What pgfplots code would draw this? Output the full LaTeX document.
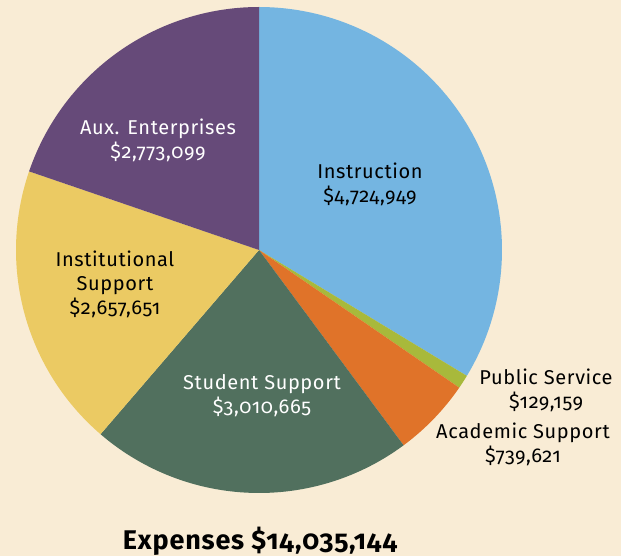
\documentclass[border=0pt]{standalone}
\usepackage{pgfplots}
\pgfplotsset{compat=1.18}
\usepackage{fontspec}
\setmainfont{Fira Sans}[Numbers=OldStyle,LetterSpace=3]
\definecolor{bg}{HTML}{F9ECD5}
\definecolor{cInstr}{HTML}{74B5E1}
\definecolor{cPub}{HTML}{A8B93B}
\definecolor{cAcad}{HTML}{E07329}
\definecolor{cStud}{HTML}{51705E}
\definecolor{cInst}{HTML}{EBCA63}
\definecolor{cAux}{HTML}{664A79}
\begin{document}
\begin{tikzpicture}
% values in thousands of dollars
\pgfmathsetmacro{\vInstr}{4724.949}
\pgfmathsetmacro{\vPub}{129.159}
\pgfmathsetmacro{\vAcad}{739.621}
\pgfmathsetmacro{\vStud}{3010.665}
\pgfmathsetmacro{\vInst}{2657.651}
\pgfmathsetmacro{\vAux}{2773.099}
\pgfmathsetmacro{\T}{\vInstr+\vPub+\vAcad+\vStud+\vInst+\vAux}
\pgfmathsetmacro{\aA}{90}
\pgfmathsetmacro{\aB}{\aA-360*(\vInstr/\T)}
\pgfmathsetmacro{\aC}{\aB-360*(\vPub/\T)}
\pgfmathsetmacro{\aD}{\aC-360*(\vAcad/\T)}
\pgfmathsetmacro{\aE}{\aD-360*(\vStud/\T)}
\pgfmathsetmacro{\aF}{\aE-360*(\vInst/\T)}
\pgfmathsetmacro{\aG}{\aF-360*(\vAux/\T)}
\begin{axis}[x=1pt,y=1pt,xmin=0,xmax=621,ymin=0,ymax=556,hide axis,clip=false]
\fill[bg] (axis cs:0,0) rectangle (axis cs:621,556);
\def\cx{259}\def\cy{306}\def\r{243}
\addplot[fill=cInstr,draw=none,domain=\aB:\aA,samples=80,variable=\t] ({\cx+\r*cos(\t)},{\cy+\r*sin(\t)}) -- (axis cs:\cx,\cy) -- cycle;
\addplot[fill=cPub,draw=none,domain=\aC:\aB,samples=10,variable=\t] ({\cx+\r*cos(\t)},{\cy+\r*sin(\t)}) -- (axis cs:\cx,\cy) -- cycle;
\addplot[fill=cAcad,draw=none,domain=\aD:\aC,samples=20,variable=\t] ({\cx+\r*cos(\t)},{\cy+\r*sin(\t)}) -- (axis cs:\cx,\cy) -- cycle;
\addplot[fill=cStud,draw=none,domain=\aE:\aD,samples=60,variable=\t] ({\cx+\r*cos(\t)},{\cy+\r*sin(\t)}) -- (axis cs:\cx,\cy) -- cycle;
\addplot[fill=cInst,draw=none,domain=\aF:\aE,samples=60,variable=\t] ({\cx+\r*cos(\t)},{\cy+\r*sin(\t)}) -- (axis cs:\cx,\cy) -- cycle;
\addplot[fill=cAux,draw=none,domain=\aG:\aF,samples=60,variable=\t] ({\cx+\r*cos(\t)},{\cy+\r*sin(\t)}) -- (axis cs:\cx,\cy) -- cycle;
% labels
\tikzset{lbl/.style={font=\fontsize{20}{24}\selectfont,align=center,inner sep=0pt}}
\node[lbl] at (axis cs:370,372) {Instruction\\\$4,724,949};
\node[lbl] at (axis cs:115,272) {Institutional\\Support\\\$2,657,651};
\node[lbl] at (axis cs:546,166) {Public Service\\\$129,159};
\node[lbl] at (axis cs:523,112) {Academic Support\\\$739,621};
\node[lbl,text=white] at (axis cs:158,416) {Aux. Enterprises\\\$2,773,099};
\node[lbl,text=white] at (axis cs:262,160) {Student Support\\\$3,010,665};
\node[font=\fontsize{27}{30}\selectfont\bfseries,inner sep=0pt] at (axis cs:260,15) {Expenses \$14,035,144};
\end{axis}
\end{tikzpicture}
\end{document}
